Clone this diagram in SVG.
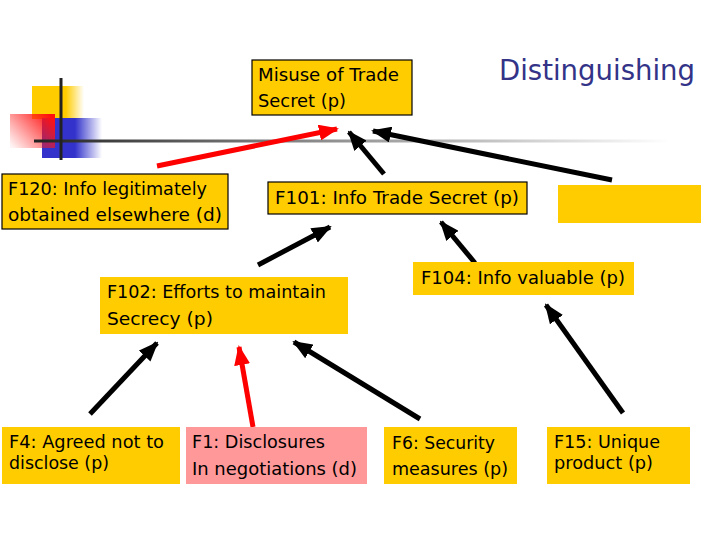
<svg xmlns="http://www.w3.org/2000/svg" width="720" height="540" viewBox="0 0 720 540">
<style>
.t{font-family:"DejaVu Sans","Liberation Sans",sans-serif;font-size:18px;fill:#000}
.y{fill:#FFCC00}
.b{stroke:#000;stroke-width:1.2}
.p{fill:#FF9999}
.k{stroke:#000;stroke-width:5;fill:none;marker-end:url(#ak)}
.r{stroke:#F00;stroke-width:5;fill:none;marker-end:url(#ar)}
</style>
<defs>
<marker id="ak" markerUnits="userSpaceOnUse" viewBox="0 0 20 16" refX="18" refY="8" markerWidth="20" markerHeight="16" orient="auto"><path d="M0,0 L20,8 L0,16 z" fill="#000"/></marker>
<marker id="ar" markerUnits="userSpaceOnUse" viewBox="0 0 20 16" refX="18" refY="8" markerWidth="20" markerHeight="16" orient="auto"><path d="M0,0 L20,8 L0,16 z" fill="#F00"/></marker>
<linearGradient id="gy" x1="0" y1="0" x2="1" y2="0"><stop offset="0.65" stop-color="#FFCC00"/><stop offset="1" stop-color="#FFCC00" stop-opacity="0"/></linearGradient>
<linearGradient id="gb" x1="0" y1="0" x2="1" y2="0"><stop offset="0.55" stop-color="#3333CC"/><stop offset="1" stop-color="#3333CC" stop-opacity="0"/></linearGradient>
<linearGradient id="gr" x1="1" y1="0.2" x2="0" y2="0.9"><stop offset="0" stop-color="#FF1111"/><stop offset="1" stop-color="#FF2222" stop-opacity="0.05"/></linearGradient>
<linearGradient id="gl" x1="0" y1="0" x2="1" y2="0"><stop offset="0" stop-color="#222"/><stop offset="0.35" stop-color="#777"/><stop offset="1" stop-color="#fff"/></linearGradient>
</defs>
<g id="decoration">
<rect x="32" y="86" width="52" height="33" fill="url(#gy)"/>
<rect x="42" y="118" width="60" height="40" fill="url(#gb)"/>
<rect x="10" y="114" width="45" height="34" fill="url(#gr)"/>
<rect x="34" y="139.5" width="636" height="3" fill="url(#gl)"/>
<rect x="59.5" y="78" width="3" height="82" fill="#222"/>
</g>
<text x="499" y="80" style="font-family:'DejaVu Sans','Liberation Sans',sans-serif;font-size:28px;fill:#333388" textLength="196" lengthAdjust="spacingAndGlyphs">Distinguishing</text>
<g id="connectors">
<line class="r" x1="157" y1="166" x2="337" y2="129"/>
<line class="k" x1="384" y1="174" x2="349" y2="132"/>
<line class="k" x1="612" y1="180" x2="373" y2="131"/>
<line class="k" x1="258" y1="265" x2="330" y2="227"/>
<line class="k" x1="475" y1="263" x2="441" y2="222"/>
<line class="k" x1="623" y1="413" x2="546" y2="305"/>
<line class="k" x1="90" y1="414" x2="157" y2="343"/>
<line class="r" x1="253" y1="427" x2="239" y2="347"/>
<line class="k" x1="420" y1="419" x2="294" y2="342"/>
</g>
<g id="misuse">
<rect class="y b" x="252" y="60" width="160" height="55"/>
<text class="t" x="258" y="81" textLength="141" lengthAdjust="spacingAndGlyphs">Misuse of Trade</text>
<text class="t" x="258" y="107" textLength="88" lengthAdjust="spacingAndGlyphs">Secret (p)</text>
</g>
<g id="f120">
<rect class="y b" x="2" y="174" width="226" height="55"/>
<text class="t" x="8" y="195" textLength="199" lengthAdjust="spacingAndGlyphs">F120: Info legitimately</text>
<text class="t" x="8" y="221" textLength="214" lengthAdjust="spacingAndGlyphs">obtained elsewhere (d)</text>
</g>
<g id="f101">
<rect class="y b" x="268" y="182" width="259" height="32"/>
<text class="t" x="275" y="204" textLength="244" lengthAdjust="spacingAndGlyphs">F101: Info Trade Secret (p)</text>
</g>
<g id="blank">
<rect class="y" x="558" y="185" width="143" height="38"/>
</g>
<g id="f102">
<rect class="y" x="100" y="277" width="248" height="57"/>
<text class="t" x="107" y="298" textLength="219" lengthAdjust="spacingAndGlyphs">F102: Efforts to maintain</text>
<text class="t" x="107" y="325" textLength="106" lengthAdjust="spacingAndGlyphs">Secrecy (p)</text>
</g>
<g id="f104">
<rect class="y" x="413" y="262" width="221" height="33"/>
<text class="t" x="421" y="284" textLength="204" lengthAdjust="spacingAndGlyphs">F104: Info valuable (p)</text>
</g>
<g id="f4">
<rect class="y" x="2" y="427" width="178" height="57"/>
<text class="t" x="9" y="448" textLength="155" lengthAdjust="spacingAndGlyphs">F4: Agreed not to</text>
<text class="t" x="9" y="469" textLength="100" lengthAdjust="spacingAndGlyphs">disclose (p)</text>
</g>
<g id="f1">
<rect class="p" x="186" y="427" width="181" height="57"/>
<text class="t" x="192" y="448" textLength="133" lengthAdjust="spacingAndGlyphs">F1: Disclosures</text>
<text class="t" x="192" y="475" textLength="165" lengthAdjust="spacingAndGlyphs">In negotiations (d)</text>
</g>
<g id="f6">
<rect class="y" x="384" y="427" width="133" height="57"/>
<text class="t" x="392" y="449" textLength="103" lengthAdjust="spacingAndGlyphs">F6: Security</text>
<text class="t" x="392" y="475" textLength="116" lengthAdjust="spacingAndGlyphs">measures (p)</text>
</g>
<g id="f15">
<rect class="y" x="547" y="427" width="143" height="57"/>
<text class="t" x="554" y="448" textLength="106" lengthAdjust="spacingAndGlyphs">F15: Unique</text>
<text class="t" x="554" y="469" textLength="99" lengthAdjust="spacingAndGlyphs">product (p)</text>
</g>
</svg>
